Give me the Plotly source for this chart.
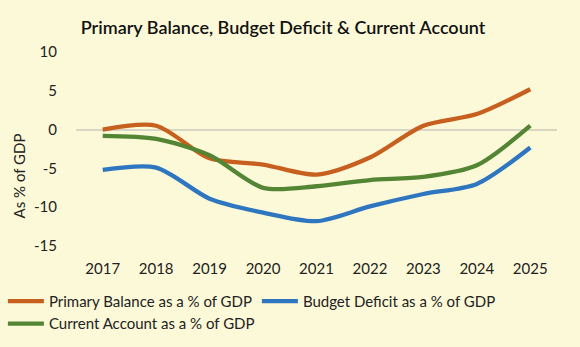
import plotly.graph_objects as go

years = ["2017", "2018", "2019", "2020", "2021", "2022", "2023", "2024", "2025"]
primary_balance = [0.0, 0.5, -3.7, -4.5, -5.8, -3.6, 0.5, 2.0, 5.2]
budget_deficit = [-5.2, -4.9, -8.9, -10.7, -11.8, -9.9, -8.3, -7.0, -2.3]
current_account = [-0.8, -1.2, -3.3, -7.5, -7.3, -6.5, -6.1, -4.6, 0.5]
y_ticks = [10, 5, 0, -5, -10, -15]
y_tick_labels = ["10", "5", "0", "-5", "-10", "-15"]

font_family = "Lato, 'Open Sans', sans-serif"
bg = "#FCF9D8"

series = [
    ("Primary Balance as a % of GDP", primary_balance, "#C75F1E"),
    ("Budget Deficit as a % of GDP", budget_deficit, "#2E76C0"),
    ("Current Account as a % of GDP", current_account, "#538534"),
]

fig = go.Figure()
for name, vals, color in series:
    fig.add_trace(go.Scatter(
        x=years, y=vals, name=name, mode="lines",
        line=dict(color=color, width=4.3, shape="spline", smoothing=0.8),
    ))

fig.update_layout(
    width=580, height=347,
    paper_bgcolor=bg, plot_bgcolor=bg,
    margin=dict(l=76, r=23, t=52, b=101, autoexpand=False),
    font=dict(family=font_family, size=15, color="#222222"),
    title=dict(
        text="Primary Balance, Budget Deficit & Current Account",
        xref="container", x=0.488, xanchor="center", y=0.92, yanchor="middle",
        font=dict(family=font_family, size=18, color="#111111", weight=600),
    ),
    xaxis=dict(
        type="category", range=[-0.5, len(years) - 0.5],
        showgrid=False, zeroline=False, showline=False,
        ticks="", tickfont=dict(size=15), ticklabelstandoff=12,
    ),
    yaxis=dict(
        range=[-15, 10], tickvals=y_ticks, ticktext=y_tick_labels,
        showgrid=False, zeroline=True, zerolinecolor="#D9D6C4", zerolinewidth=1.5,
        tickfont=dict(size=15), ticks="", ticklabelstandoff=18,
    ),
    annotations=[dict(
        text="As % of GDP", textangle=-90, showarrow=False,
        xref="paper", x=-0.118, xanchor="center",
        yref="paper", y=0.36, yanchor="middle",
        font=dict(size=15, color="#222222"),
    )],
    legend=dict(
        orientation="h", xref="paper", x=-0.152, xanchor="left",
        yref="paper", y=-0.2, yanchor="top",
        font=dict(size=15), entrywidth=203, entrywidthmode="pixels",
        bgcolor="rgba(0,0,0,0)", tracegroupgap=0, itemwidth=36,
    ),
)

fig.write_html("out.html")
